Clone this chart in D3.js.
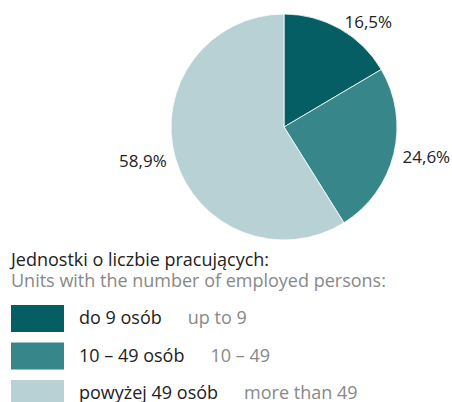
<!DOCTYPE html>
<html>
<head>
<meta charset="utf-8">
<script src="https://cdn.jsdelivr.net/npm/d3@7"></script>
<style>
  body { margin: 0; background: #fff; }
  svg text { font-family: "Open Sans", sans-serif; }
</style>
</head>
<body>
<svg id="chart" width="452" height="402"></svg>
<script>
const categoriesPl = ["do 9 osób", "10 – 49 osób", "powyżej 49 osób"];
const categoriesEn = ["up to 9", "10 – 49", "more than 49"];
const shares = [16.5, 24.6, 58.9];
const colours = ["#045e63", "#37878a", "#b8d1d5"];
const titlePl = "Jednostki o liczbie pracujących:";
const titleEn = "Units with the number of employed persons:";

const svg = d3.select("#chart");
const cx = 284, cy = 127, radius = 113;

const pie = d3.pie().sort(null).value(d => d);
const arcs = pie(shares);
const arc = d3.arc().innerRadius(0).outerRadius(radius);
const labelArc = d3.arc().innerRadius(radius + 9).outerRadius(radius + 9);

const fmt = v => d3.format(".1f")(v).replace(".", ",") + "%";
const onRight = d => (d.startAngle + d.endAngle) / 2 < Math.PI;

const pieG = svg.append("g").attr("transform", `translate(${cx},${cy})`);

pieG.selectAll("path")
  .data(arcs)
  .enter()
  .append("path")
  .attr("d", arc)
  .attr("fill", (d, i) => colours[i])
  .attr("stroke", "#fff")
  .attr("stroke-width", 0.8);

pieG.selectAll("text")
  .data(arcs)
  .enter()
  .append("text")
  .attr("transform", d => {
    const [x, y] = labelArc.centroid(d);
    return `translate(${x},${y})`;
  })
  .attr("dy", "0.4em")
  .attr("text-anchor", d => (onRight(d) ? "start" : "end"))
  .attr("font-size", 17)
  .attr("fill", "#222")
  .text(d => fmt(d.data));

// legend
const legend = svg.append("g").attr("transform", "translate(11,0)");

legend.append("text")
  .attr("x", 0).attr("y", 266)
  .attr("font-size", 18).attr("fill", "#222")
  .text(titlePl);

legend.append("text")
  .attr("x", 0).attr("y", 287)
  .attr("font-size", 18).attr("fill", "#888")
  .text(titleEn);

const rowY = d3.scalePoint()
  .domain(d3.range(categoriesPl.length))
  .range([305, 380]);

const rows = legend.selectAll("g.row")
  .data(categoriesPl)
  .enter()
  .append("g")
  .attr("class", "row")
  .attr("transform", (d, i) => `translate(0,${rowY(i)})`);

rows.append("rect")
  .attr("width", 53)
  .attr("height", 27)
  .attr("fill", (d, i) => colours[i]);

rows.append("text")
  .attr("x", 68).attr("y", 19)
  .attr("font-size", 18).attr("fill", "#222")
  .text(d => d)
  .each(function (d, i) {
    const w = this.getComputedTextLength();
    d3.select(this.parentNode).append("text")
      .attr("x", 68 + w + 26).attr("y", 19)
      .attr("font-size", 18).attr("fill", "#888")
      .text(categoriesEn[i]);
  });
</script>
</body>
</html>
